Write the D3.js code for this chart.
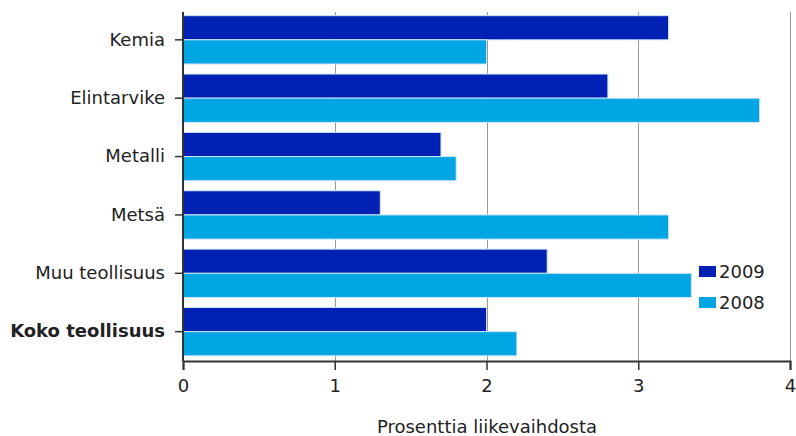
<!DOCTYPE html>
<html><head><meta charset="utf-8">
<script src="https://cdn.jsdelivr.net/npm/d3@7"></script>
<style>body{margin:0;background:#fff}svg{display:block}text{font-family:"DejaVu Sans",sans-serif;fill:#222}</style>
</head><body>
<script>
const categories = ["Kemia","Elintarvike","Metalli","Metsä","Muu teollisuus","Koko teollisuus"];
const seriesNames = ["2009","2008"];
const values2009 = [3.2, 2.8, 1.7, 1.3, 2.4, 2.0];
const values2008 = [2.0, 3.8, 1.8, 3.2, 3.35, 2.2];
const xTicks = [0,1,2,3,4];
const xTitle = "Prosenttia liikevaihdosta";
const colors = ["#0021b3","#00a5e4"];

const W=796,H=436;
const m={left:183,right:6,top:12,bottom:75};
const svg=d3.select("body").append("svg").attr("width",W).attr("height",H);
const x=d3.scaleLinear().domain([0,4]).range([m.left,W-m.right]);
const y=d3.scaleBand().domain(categories).range([11,360.5]).paddingInner(0.172).paddingOuter(0.08);
const y1=d3.scaleBand().domain(seriesNames).range([0,y.bandwidth()]);

// gridlines
svg.append("g").selectAll("line").data(xTicks.filter(d=>d>0)).join("line")
 .attr("x1",d=>Math.round(x(d))+0.5).attr("x2",d=>Math.round(x(d))+0.5)
 .attr("y1",m.top).attr("y2",H-m.bottom).attr("stroke","#999").attr("stroke-width",1);

const data=categories.map((c,i)=>({c,vals:[values2009[i],values2008[i]]}));
const g=svg.append("g").selectAll("g").data(data).join("g").attr("transform",d=>`translate(0,${y(d.c)})`);
g.selectAll("rect").data(d=>d.vals.map((v,j)=>({v,s:seriesNames[j],j}))).join("rect")
 .attr("x",x(0)).attr("y",d=>y1(d.s)).attr("width",d=>x(d.v)-x(0)).attr("height",y1.bandwidth())
 .attr("fill",d=>colors[d.j]).attr("stroke","#cfe6f5").attr("stroke-width",1);

// x axis
const xa=svg.append("g").attr("transform",`translate(0,${H-m.bottom})`)
 .call(d3.axisBottom(x).tickValues(xTicks).tickFormat(d3.format("d")).tickSize(9).tickPadding(9));
xa.select(".domain").attr("stroke","#333").attr("stroke-width",2);
xa.selectAll(".tick line").attr("stroke","#333").attr("stroke-width",1.5);
xa.selectAll("text").attr("font-size",18).attr("fill","#222").attr("font-family","DejaVu Sans");

// y axis
const ya=svg.append("g").attr("transform",`translate(${m.left},0)`)
 .call(d3.axisLeft(y).tickSize(8).tickPadding(10));
ya.select(".domain").attr("stroke","#333").attr("stroke-width",2).attr("d",`M0,${m.top}V${H-m.bottom}`);
ya.selectAll(".tick line").attr("stroke","#333").attr("stroke-width",1.5);
ya.selectAll("text").attr("font-size",18).attr("fill","#222").attr("font-family","DejaVu Sans")
 .attr("font-weight",d=>d==="Koko teollisuus"?"bold":"normal");

svg.append("text").attr("x",487).attr("y",433).attr("text-anchor","middle").attr("font-size",18).text(xTitle);

// legend
const lg=svg.append("g").selectAll("g").data(seriesNames).join("g").attr("transform",(d,i)=>`translate(699,${266+i*31})`);
lg.append("rect").attr("width",17).attr("height",11).attr("fill",(d,i)=>colors[i]);
lg.append("text").attr("x",20).attr("y",12).attr("font-size",18).text(d=>d);
</script>
</body></html>
